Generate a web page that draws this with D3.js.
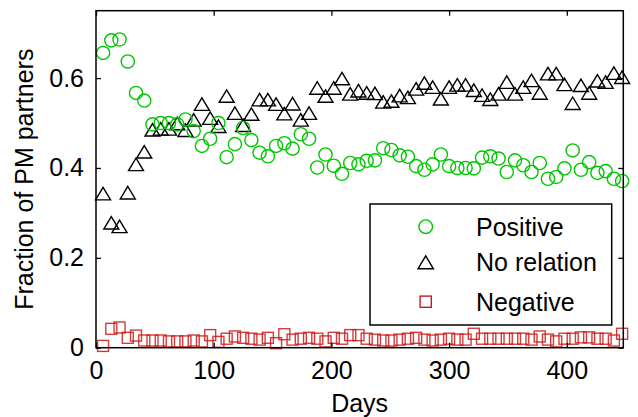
<!DOCTYPE html>
<html><head><meta charset="utf-8">
<script src="https://cdn.jsdelivr.net/npm/d3@7"></script>
<style>
html,body{margin:0;padding:0;background:#fff;}
text{font-family:"Liberation Sans",Arial,sans-serif;}
</style></head>
<body>
<svg id="chart" width="638" height="417"></svg>
<script>
// Data (weekly samples)
const days = d3.range(64).map(i => 6 + 7 * i);
const positive = [0.656,0.684,0.686,0.637,0.567,0.550,0.497,0.500,0.500,0.497,0.508,0.482,0.449,0.465,0.500,0.424,0.453,0.489,0.462,0.434,0.426,0.449,0.455,0.443,0.475,0.465,0.401,0.430,0.405,0.387,0.411,0.408,0.416,0.417,0.444,0.440,0.428,0.425,0.404,0.396,0.408,0.430,0.404,0.400,0.400,0.399,0.423,0.426,0.421,0.391,0.417,0.406,0.391,0.411,0.376,0.380,0.399,0.439,0.396,0.413,0.389,0.393,0.376,0.371];
const noRelation = [0.343,0.278,0.270,0.345,0.408,0.436,0.485,0.487,0.487,0.499,0.484,0.507,0.542,0.511,0.493,0.560,0.522,0.495,0.520,0.552,0.552,0.542,0.521,0.543,0.507,0.522,0.578,0.560,0.578,0.599,0.565,0.572,0.567,0.566,0.547,0.549,0.561,0.557,0.576,0.589,0.580,0.554,0.580,0.585,0.585,0.573,0.562,0.553,0.565,0.591,0.565,0.580,0.595,0.567,0.610,0.610,0.586,0.544,0.584,0.567,0.594,0.591,0.611,0.602];
const negative = [0.004,0.042,0.045,0.022,0.027,0.016,0.016,0.016,0.014,0.014,0.014,0.016,0.014,0.028,0.013,0.020,0.025,0.022,0.020,0.018,0.022,0.010,0.030,0.018,0.020,0.022,0.020,0.014,0.022,0.020,0.028,0.028,0.020,0.018,0.016,0.016,0.018,0.020,0.022,0.018,0.016,0.018,0.020,0.018,0.018,0.031,0.020,0.020,0.020,0.020,0.020,0.020,0.018,0.025,0.018,0.014,0.020,0.020,0.023,0.023,0.020,0.020,0.016,0.031];
const xTicks = [0, 100, 200, 300, 400];
const yTicks = [0, 0.2, 0.4, 0.6];
const legendLabels = ["Positive", "No relation", "Negative"];
const xLabel = "Days";
const yLabel = "Fraction of PM partners";

const W = 638, H = 417;
const m = {left: 96, top: 10.7, right: 638 - 623.3, bottom: 417 - 347.7};
const svg = d3.select("#chart");
const x = d3.scaleLinear().domain([0, 448]).range([m.left, W - m.right]);
const y = d3.scaleLinear().domain([0, 0.75]).range([H - m.bottom, m.top]);

const FS = 25;
const green = "#00c800", red = "#cc1a1a";

// markers
const g = svg.append("g");
function triPath(cx, cy, w, h) {
  return `M${cx},${cy - h/2}L${cx + w/2},${cy + h/2}L${cx - w/2},${cy + h/2}Z`;
}
g.selectAll("rect.neg").data(negative).join("rect")
  .attr("x", (d,i) => x(days[i]) - 5.5).attr("y", d => y(d) - 5.5)
  .attr("width", 11).attr("height", 11)
  .attr("fill", "none").attr("stroke", red).attr("stroke-width", 1.4).attr("stroke-opacity", 0.85);
g.selectAll("path.nr").data(noRelation).join("path")
  .attr("d", (d,i) => triPath(x(days[i]), y(d), 15, 12.5))
  .attr("fill", "none").attr("stroke", "#000").attr("stroke-width", 1.4);
g.selectAll("circle.pos").data(positive).join("circle")
  .attr("cx", (d,i) => x(days[i])).attr("cy", d => y(d)).attr("r", 6.6)
  .attr("fill", "none").attr("stroke", green).attr("stroke-width", 1.4);

// axes box
const x0 = x.range()[0], x1 = x.range()[1], y0 = y.range()[0], y1 = y.range()[1];
svg.append("rect").attr("x", x0).attr("y", y1).attr("width", x1 - x0).attr("height", y0 - y1)
  .attr("fill", "none").attr("stroke", "#000").attr("stroke-width", 1.5);

const xAxis = svg.append("g").attr("transform", `translate(0,${y0})`)
  .call(d3.axisBottom(x).tickValues(xTicks).tickSizeInner(-5).tickSizeOuter(0).tickPadding(14).tickFormat(d3.format("d")));
const xAxisTop = svg.append("g").attr("transform", `translate(0,${y1})`)
  .call(d3.axisTop(x).tickValues(xTicks).tickSizeInner(-5).tickSizeOuter(0).tickFormat(""));
const yAxis = svg.append("g").attr("transform", `translate(${x0},0)`)
  .call(d3.axisLeft(y).tickValues(yTicks).tickSizeInner(-5).tickSizeOuter(0).tickPadding(12).tickFormat(d => d === 0 ? "0" : d3.format(".1f")(d)));
const yAxisR = svg.append("g").attr("transform", `translate(${x1},0)`)
  .call(d3.axisRight(y).tickValues(yTicks).tickSizeInner(-5).tickSizeOuter(0).tickFormat(""));
[xAxis, xAxisTop, yAxis, yAxisR].forEach(a => {
  a.select(".domain").remove();
  a.selectAll("line").attr("stroke", "#000").attr("stroke-width", 1.3);
  a.selectAll("text").attr("font-size", FS).attr("fill", "#000").style("font-family", '"Liberation Sans", Arial, sans-serif');
});

// axis labels
svg.append("text").attr("x", (x0 + x1) / 2).attr("y", 412).attr("text-anchor", "middle")
  .attr("font-size", FS).text(xLabel);
svg.append("text").attr("transform", `translate(33,${(y0 + y1) / 2}) rotate(-90)`)
  .attr("text-anchor", "middle").attr("font-size", FS).text(yLabel);

// legend
const lg = svg.append("g");
lg.append("rect").attr("x", 370).attr("y", 204).attr("width", 241.7).attr("height", 121)
  .attr("fill", "#fff").attr("stroke", "#000").attr("stroke-width", 1.5);
const ly = [226.7, 262.3, 301.7];
const lx = 425.7;
lg.append("circle").attr("cx", lx).attr("cy", ly[0]).attr("r", 6.8)
  .attr("fill", "none").attr("stroke", green).attr("stroke-width", 1.4);
lg.append("path").attr("d", triPath(lx, ly[1], 15.5, 13))
  .attr("fill", "none").attr("stroke", "#000").attr("stroke-width", 1.4);
lg.append("rect").attr("x", lx - 5.6).attr("y", ly[2] - 5.6).attr("width", 11.2).attr("height", 11.2)
  .attr("fill", "none").attr("stroke", red).attr("stroke-width", 1.4);
lg.selectAll("text.lab").data(legendLabels).join("text")
  .attr("x", 476).attr("y", (d,i) => ly[i] + 9).attr("font-size", FS).attr("fill", "#000").text(d => d);
</script>
</body></html>
